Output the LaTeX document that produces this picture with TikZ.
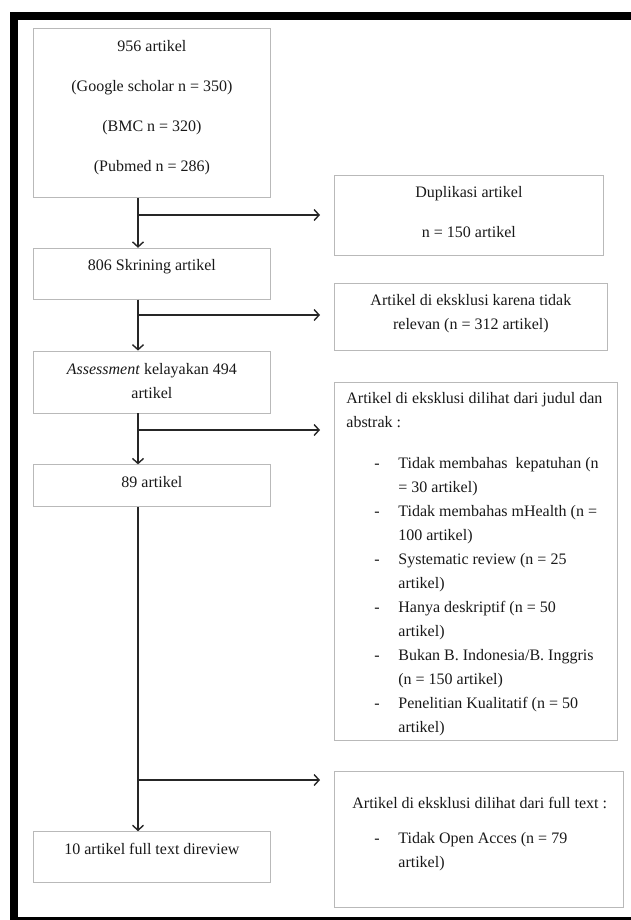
\documentclass[tikz,border=0pt]{standalone}
\usepackage{fontspec}
\setmainfont{Liberation Serif}
\usetikzlibrary{arrows.meta, positioning}
\tikzstyle{leftbox} = [rectangle, draw=gray!55, line width=0.8pt, text width=237pt, inner xsep=0pt, inner ysep=0pt, align=flush center, text=black!90]
\tikzstyle{sidebox} = [rectangle, draw=gray!55, line width=0.8pt, inner ysep=0pt, text=black!90]
\tikzstyle{arrow} = [line width=1.4pt, draw=black!85, ->, >={Straight Barb[length=5pt,width=11pt]}]
\newcommand{\itm}{\hspace*{28pt}\makebox[24pt][l]{-}}
\newcommand{\cont}{\hspace*{52pt}}

\begin{document}
\begin{tikzpicture}[x=1pt, y=-1pt, font=\fontsize{16}{24}\selectfont]
    \useasboundingbox (0,0) rectangle (631,920);
    % frame
    \fill (10,12) rectangle (631,20);
    \fill (10,12) rectangle (18,920);
    \fill (10,917) rectangle (631,920);

    \node (src) [leftbox, anchor=north west, text height=23pt, text depth=146pt] at (33,28) {956 artikel\\[16pt] (Google scholar n = 350)\\[16pt] (BMC n = 320)\\[16pt] (Pubmed n = 286)};
    \node (skr) [leftbox, below=50pt of src, text height=22pt, text depth=29pt] {806 Skrining artikel};
    \node (asm) [leftbox, below=51pt of skr, text height=23pt, text depth=39pt] {\textit{Assessment} kelayakan 494\\ artikel};
    \node (sel) [leftbox, below=51pt of asm, text height=23pt, text depth=19pt] {89 artikel};
    \node (fin) [leftbox, below=324pt of sel, text height=23pt, text depth=28pt] {10 artikel full text direview};

    \node (dup) [sidebox, anchor=north west, text width=269pt, inner xsep=0pt, align=flush center, text height=22pt, text depth=58pt] at (334,175) {Duplikasi artikel\\[16pt] n = 150 artikel};
    \node (rel) [sidebox, anchor=north west, text width=273pt, inner xsep=0pt, align=flush center, text height=22pt, text depth=45pt] at (334,283) {Artikel di eksklusi karena tidak\\ relevan (n = 312 artikel)};
    \node (big) [sidebox, anchor=north west, text width=259pt, inner xsep=12pt, align=flush left, text height=21pt, text depth=337pt] at (334,382) {Artikel di eksklusi dilihat dari judul dan\\ abstrak :\\[17pt]
        \itm Tidak membahas\ \ kepatuhan (n\\ \cont = 30 artikel)\\
        \itm Tidak membahas mHealth (n =\\ \cont 100 artikel)\\
        \itm Systematic review (n = 25\\ \cont artikel)\\
        \itm Hanya deskriptif (n = 50\\ \cont artikel)\\
        \itm Bukan B. Indonesia/B. Inggris\\ \cont (n = 150 artikel)\\
        \itm Penelitian Kualitatif (n = 50\\ \cont artikel)};
    \node (ft) [sidebox, anchor=north west, text width=265pt, inner xsep=12pt, align=flush left, text height=37pt, text depth=99pt] at (334,771) {\hspace*{6pt}Artikel di eksklusi dilihat dari full text :\\[11pt]
        \itm Tidak Open Acces (n = 79\\ \cont artikel)};

    % trunk and branch points
    \coordinate (trunk) at (138,0);
    \coordinate (b1) at (138,215);
    \coordinate (b2) at (138,315);
    \coordinate (b3) at (138,430);
    \coordinate (b4) at (138,780);

    \draw [arrow] (src.south -| trunk) -- (skr.north -| trunk);
    \draw [arrow] (skr.south -| trunk) -- (asm.north -| trunk);
    \draw [arrow] (asm.south -| trunk) -- (sel.north -| trunk);
    \draw [arrow] (sel.south -| trunk) -- (fin.north -| trunk);

    \draw [arrow, shorten >=14pt] (b1) -- (b1 -| dup.west);
    \draw [arrow, shorten >=14pt] (b2) -- (b2 -| rel.west);
    \draw [arrow, shorten >=14pt] (b3) -- (b3 -| big.west);
    \draw [arrow, shorten >=14pt] (b4) -- (b4 -| ft.west);
\end{tikzpicture}
\end{document}
